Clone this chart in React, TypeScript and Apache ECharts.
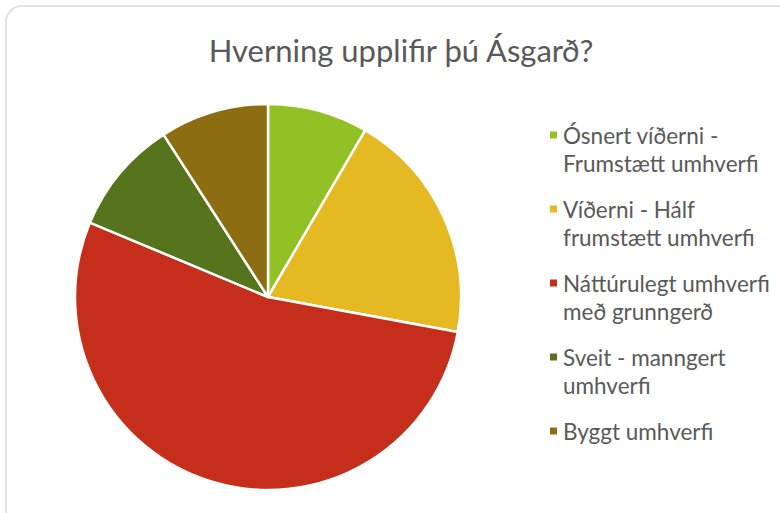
import React, { useEffect, useRef } from "react";
import * as echarts from "echarts";

const TITLE = "Hverning upplifir þú Ásgarð?";
const categories = [
  "Ósnert víðerni -\nFrumstætt umhverfi",
  "Víðerni - Hálf\nfrumstætt umhverfi",
  "Náttúrulegt umhverfi\nmeð grunngerð",
  "Sveit - manngert\numhverfi",
  "Byggt umhverfi",
];
const values = [8.4, 19.5, 53.4, 9.6, 9.1];
const colors = ["#92C125", "#E4B921", "#C42E1A", "#55741C", "#8C6D11"];

const FONT = "Lato, 'Open Sans', sans-serif";

export default function App() {
  const ref = useRef<HTMLDivElement>(null);
  useEffect(() => {
    if (!ref.current) return;
    const chart = echarts.init(ref.current, undefined, { renderer: "svg" });
    chart.setOption({
      animation: false,
      backgroundColor: "#ffffff",
      title: {
        text: TITLE,
        left: 396,
        textAlign: "center",
        top: 29,
        textStyle: { fontFamily: FONT, fontSize: 31, fontWeight: "normal", color: "#595959" },
      },
      legend: {
        orient: "vertical",
        left: 543,
        top: 88,
        itemWidth: 9,
        itemHeight: 9,
        itemGap: -10,
        icon: "rect",
        selectedMode: false,
        formatter: (name: string) =>
          name
            .split("\n")
            .map((l) => `{t|${l}}`)
            .join("\n"),
        data: categories.map((c) => ({
          name: c,
          textStyle: {
            padding: c.includes("\n") ? [28, 0, 0, 0] : [28, 0, 28, 0],
          },
        })),
        textStyle: {
          fontFamily: FONT,
          fontSize: 22.5,
          lineHeight: 28,
          color: "#595959",
          rich: {
            t: {
              fontFamily: FONT,
              fontSize: 22.5,
              lineHeight: 28,
              color: "#595959",
            },
          },
        },
      },
      graphic: [
        {
          type: "rect",
          shape: { x: 6, y: 6, width: 800, height: 530, r: 16 },
          style: { fill: "none", stroke: "#d9d9d9", lineWidth: 1.5 },
          silent: true,
        },
      ],
      series: [
        {
          type: "pie",
          center: [268, 297],
          radius: 193,
          startAngle: 90,
          clockwise: true,
          label: { show: false },
          labelLine: { show: false },
          itemStyle: { borderColor: "#ffffff", borderWidth: 2.5 },
          emphasis: { disabled: true },
          data: categories.map((c, i) => ({
            name: c,
            value: values[i],
            itemStyle: { color: colors[i] },
          })),
        },
      ],
    });
    return () => chart.dispose();
  }, []);
  return (
    <div
      ref={ref}
      style={{ position: "fixed", left: 0, top: 0, width: 780, height: 513 }}
    />
  );
}
